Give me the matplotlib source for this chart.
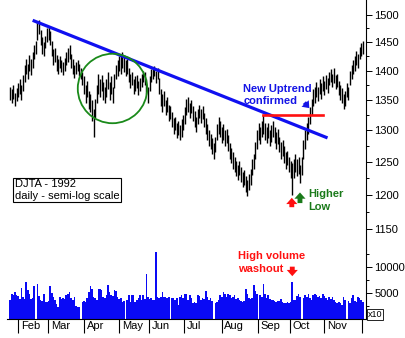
import matplotlib
matplotlib.use("Agg")
import matplotlib.pyplot as plt
import matplotlib.transforms as mtrans
from matplotlib.ticker import FixedLocator, NullFormatter
import numpy as np

plt.rcParams['font.family'] = ['Liberation Sans', 'DejaVu Sans']

# daily DJTA bars, late Jan .. end Nov 1992
lows = [1350, 1345, 1352, 1340, 1348, 1355, 1360, 1350, 1365, 1380,
        1395, 1385, 1400, 1392, 1405, 1420, 1430, 1455, 1465, 1445,
        1430, 1425, 1440, 1450, 1455, 1445, 1425, 1410, 1415, 1400,
        1395, 1405, 1398, 1392, 1400, 1410, 1415, 1420, 1405, 1395,
        1388, 1395, 1400, 1390, 1385, 1375, 1360, 1345, 1355, 1335,
        1330, 1315, 1290, 1320, 1345, 1360, 1355, 1365, 1350, 1345,
        1355, 1368, 1350, 1360, 1345, 1370, 1385, 1390, 1400, 1395,
        1405, 1398, 1390, 1395, 1380, 1370, 1375, 1360, 1365, 1370,
        1358, 1365, 1372, 1380, 1375, 1360, 1345, 1365, 1380, 1385,
        1390, 1378, 1385, 1360, 1340, 1330, 1340, 1325, 1330, 1315,
        1318, 1305, 1295, 1300, 1288, 1292, 1285, 1290, 1300, 1310,
        1325, 1330, 1320, 1328, 1315, 1305, 1298, 1310, 1320, 1312,
        1318, 1305, 1295, 1285, 1275, 1270, 1262, 1255, 1265, 1285,
        1295, 1290, 1280, 1285, 1275, 1280, 1268, 1255, 1248, 1240,
        1235, 1228, 1222, 1230, 1220, 1212, 1215, 1205, 1198, 1208,
        1215, 1230, 1240, 1255, 1270, 1285, 1278, 1290, 1295, 1285,
        1280, 1288, 1275, 1282, 1290, 1280, 1270, 1278, 1265, 1255,
        1260, 1248, 1240, 1245, 1235, 1225, 1200, 1225, 1235, 1228,
        1232, 1218, 1230, 1255, 1270, 1285, 1295, 1310, 1325, 1340,
        1345, 1355, 1348, 1360, 1352, 1365, 1358, 1368, 1362, 1375,
        1380, 1372, 1378, 1368, 1372, 1358, 1350, 1345, 1335, 1340,
        1355, 1350, 1375, 1385, 1395, 1400, 1410, 1405, 1420, 1425,
        1430]
highs = [1372, 1368, 1375, 1362, 1370, 1378, 1385, 1376, 1392, 1410,
         1420, 1412, 1428, 1420, 1432, 1445, 1452, 1488, 1490, 1472,
         1460, 1450, 1462, 1475, 1478, 1470, 1452, 1438, 1440, 1428,
         1420, 1425, 1418, 1415, 1422, 1432, 1440, 1445, 1430, 1420,
         1410, 1415, 1418, 1412, 1405, 1398, 1390, 1375, 1382, 1365,
         1360, 1350, 1335, 1352, 1375, 1395, 1385, 1392, 1380, 1372,
         1385, 1398, 1380, 1390, 1372, 1395, 1410, 1418, 1425, 1430,
         1432, 1425, 1418, 1420, 1405, 1395, 1398, 1385, 1390, 1392,
         1382, 1388, 1395, 1400, 1398, 1385, 1372, 1390, 1402, 1405,
         1408, 1400, 1405, 1388, 1368, 1360, 1365, 1350, 1355, 1342,
         1340, 1330, 1320, 1322, 1312, 1315, 1308, 1318, 1325, 1338,
         1352, 1355, 1345, 1350, 1340, 1332, 1322, 1335, 1342, 1335,
         1340, 1328, 1320, 1310, 1300, 1295, 1288, 1280, 1290, 1310,
         1322, 1315, 1305, 1310, 1300, 1302, 1292, 1280, 1272, 1265,
         1258, 1252, 1245, 1252, 1242, 1235, 1238, 1228, 1222, 1232,
         1240, 1255, 1262, 1282, 1300, 1312, 1305, 1315, 1325, 1312,
         1305, 1312, 1300, 1308, 1315, 1305, 1298, 1302, 1290, 1282,
         1285, 1275, 1265, 1268, 1258, 1252, 1248, 1255, 1262, 1255,
         1258, 1245, 1258, 1285, 1300, 1312, 1322, 1338, 1352, 1368,
         1372, 1380, 1372, 1385, 1378, 1390, 1382, 1392, 1388, 1398,
         1402, 1395, 1405, 1392, 1395, 1382, 1375, 1370, 1360, 1365,
         1378, 1372, 1400, 1410, 1418, 1425, 1435, 1430, 1442, 1448,
         1452]
# volume, x10 shares
volume = [3600, 4900, 4600, 5200, 4700, 4400, 3900, 5900, 4300, 3900,
          7100, 5600, 4800, 3900, 4000, 6300, 0, 6800, 4500, 3700,
          3500, 4900, 3300, 3200, 3400, 6400, 5000, 4200, 3700, 2900,
          2400, 4300, 3900, 4000, 3800, 4600, 4900, 5200, 4000, 3700,
          4300, 2500, 2400, 2400, 0, 3300, 3400, 3300, 4000, 5200,
          6400, 5800, 4300, 4000, 3700, 5700, 5800, 5600, 4300, 4000,
          4600, 6500, 5200, 4600, 4400, 5500, 5400, 4300, 3900, 4000,
          3300, 3400, 0, 3600, 4600, 3300, 4600, 4600, 3300, 3600,
          4000, 4600, 3700, 4600, 3800, 8600, 4300, 3800, 4100, 3700,
          3600, 12800, 4200, 4000, 4300, 5200, 4200, 4300, 4100, 4300,
          0, 4000, 4000, 3700, 4000, 2600, 4300, 4700, 4000, 4900,
          4900, 3600, 4600, 4000, 3000, 3300, 3100, 4600, 4500, 3700,
          4000, 3800, 5300, 4300, 3700, 4000, 3400, 0, 3000, 3300,
          3700, 4600, 4300, 5200, 4900, 4300, 4900, 4600, 4000, 4300,
          4700, 3900, 4000, 3600, 3400, 3300, 3500, 5800, 4900, 4000,
          3900, 4000, 6500, 5300, 4900, 0, 4600, 4200, 6800, 4800,
          4000, 4600, 3900, 3600, 3700, 3400, 3300, 3500, 3400, 3900,
          3300, 3000, 3100, 3300, 3000, 3200, 7200, 3600, 3700, 4400,
          4800, 4200, 0, 4000, 4600, 4300, 4800, 4000, 3700, 4700,
          4900, 4600, 4300, 4500, 4000, 4900, 4400, 4000, 3700, 4200,
          3800, 4300, 3700, 3300, 3000, 3300, 3000, 2700, 4300, 3600,
          0, 3400, 3000, 4000, 4600, 3500, 3300, 4300, 4000, 3700,
          3300]
months = ['Feb', 'Mar', 'Apr', 'May', 'Jun', 'Jul', 'Aug', 'Sep', 'Oct', 'Nov']
month_start = [5, 23.5, 46.3, 67.8, 86.9, 108.5, 131.9, 154.7, 174.4, 196, 219.3]

# annotation levels
trend_x = [14, 198]
trend_y = [1490, 1288]
conf_x = [158, 195]
conf_y = 1325

days = np.arange(len(highs))

fig = plt.figure(figsize=(4.06, 3.38), dpi=100)
W, H = 406, 338
ax = fig.add_axes([7 / W, 88 / H, 359 / W, 250 / H])
axv = fig.add_axes([7 / W, 19 / H, 359 / W, 69 / H], sharex=ax)

big_arrow = 'simple,head_width=0.8,head_length=0.45,tail_width=0.35'

# price bars
ax.vlines(days, lows, highs, color='black', lw=1.0)
ax.set_yscale('log')
ax.set_ylim(1121, 1528)
ax.set_xlim(-2, 222)

ax.plot(trend_x, trend_y, color='#1010f0', lw=2.3, solid_capstyle='butt')
ax.plot(conf_x, [conf_y, conf_y], color='#ff1010', lw=1.9)
ax.plot(63.5, 1370, 'o', ms=50, mfc='none', mec='#1a8a1a', mew=1.3)

ax.text(145.5, 1358, 'New Uptrend\nconfirmed', color='#1414e6', fontsize=8,
        fontweight='bold', va='center', ha='left', linespacing=1.3)
ax.annotate('', xy=(187.8, 1333), xytext=(182.4, 1349),
            arrowprops=dict(arrowstyle='simple,head_width=0.7,head_length=0.45,tail_width=0.3',
                            color='#1414e6', lw=0))
ax.text(185.8, 1192, 'Higher\nLow', color='#1a7a1a', fontsize=8,
        fontweight='bold', va='center', ha='left', linespacing=1.4)
ax.annotate('', xy=(180.8, 1208), xytext=(180.8, 1184),
            arrowprops=dict(arrowstyle=big_arrow, color='#1a7a1a', lw=0))
ax.annotate('', xy=(175.7, 1200), xytext=(175.7, 1178),
            arrowprops=dict(arrowstyle=big_arrow, color='#ff1010', lw=0))
ax.text(0.022, 0.24, 'DJTA - 1992\ndaily - semi-log scale', transform=ax.transAxes,
        fontsize=8, va='center', ha='left', linespacing=1.2,
        bbox=dict(boxstyle='square,pad=0.15', fc='white', ec='black', lw=0.8))

# volume bars
axv.bar(days, volume, width=1.0, color='#0a0af5', linewidth=0)
axv.set_ylim(0, 13270)
axv.text(142.4, 10900, 'High volume\nwashout', color='#ff1010', fontsize=8,
         fontweight='bold', va='center', ha='left', linespacing=1.3)
axv.annotate('', xy=(176, 7700), xytext=(176, 10600),
             arrowprops=dict(arrowstyle=big_arrow, color='#ff1010', lw=0))
axv.text(1.004, 0.0, 'x10', transform=axv.transAxes, fontsize=6.5, va='bottom', ha='left',
         bbox=dict(boxstyle='square,pad=0.1', fc='white', ec='black', lw=0.6))

# axes styling
for a in (ax, axv):
    for s in ('left', 'top'):
        a.spines[s].set_visible(False)
    a.spines['right'].set_linewidth(0.8)
    a.yaxis.tick_right()
    a.tick_params(axis='y', direction='out', length=4, width=0.7, labelsize=8, pad=2)
    a.tick_params(axis='y', which='minor', direction='out', length=2.5, width=0.7)
ax.spines['bottom'].set_visible(False)
ax.tick_params(axis='x', which='both', bottom=False, labelbottom=False)

ax.yaxis.set_major_locator(FixedLocator([1150, 1200, 1250, 1300, 1350, 1400, 1450, 1500]))
ax.yaxis.set_minor_locator(FixedLocator([1175, 1225, 1275, 1325, 1375, 1425, 1475]))
ax.yaxis.set_major_formatter(plt.FuncFormatter(lambda v, p: f"{v:.0f}"))
ax.yaxis.set_minor_formatter(NullFormatter())

axv.set_yticks([5000, 10000])
axv.set_yticklabels(['5000', '10000'])
axv.yaxis.set_minor_locator(FixedLocator([2500, 7500, 12500]))

axv.spines['bottom'].set_linewidth(0.8)
axv.set_xticks(month_start)
axv.set_xticklabels(months + [''])
axv.tick_params(axis='x', direction='out', length=10, width=0.8, labelsize=8, pad=-8.5)
offset = mtrans.ScaledTranslation(2 / 72, 0, fig.dpi_scale_trans)
for lab in axv.get_xticklabels():
    lab.set_horizontalalignment('left')
    lab.set_transform(lab.get_transform() + offset)

fig.savefig('out.png', dpi=100)
